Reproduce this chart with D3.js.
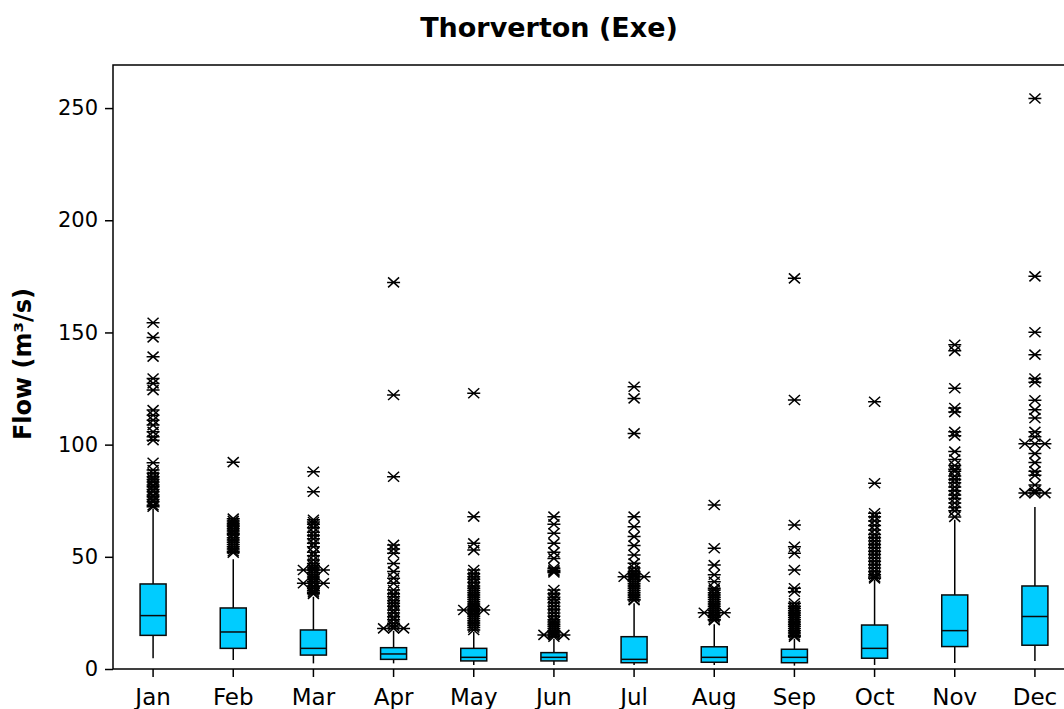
<!DOCTYPE html>
<html>
<head>
<meta charset="utf-8">
<script src="https://cdn.jsdelivr.net/npm/d3@7"></script>
<style>
    body { margin: 0; background: #fff; }
    svg { display: block; font-family: "DejaVu Sans", Verdana, sans-serif; }
</style>
</head>
<body>
<svg id="chart"></svg>
<script>
// month categories
const months = ["Jan", "Feb", "Mar", "Apr", "May", "Jun", "Jul", "Aug", "Sep", "Oct", "Nov", "Dec"]

// box stats per month (m3/s)
const whiskerLow  = [4.8, 4.0, 2.5, 2.5, 1.8, 1.8, 1.8, 1.8, 1.5, 1.8, 2.7, 3.6]
const q1          = [15.0, 9.2, 6.2, 4.3, 3.6, 3.6, 2.8, 3.0, 2.8, 4.8, 10.0, 10.6]
const medians     = [23.8, 16.5, 9.2, 6.7, 5.2, 5.2, 4.3, 5.2, 5.2, 9.2, 17.1, 23.4]
const q3          = [37.9, 27.2, 17.4, 9.5, 9.2, 7.3, 14.4, 9.9, 8.8, 19.6, 33.0, 37.0]
const whiskerHigh = [71.5, 48.9, 32.2, 17.0, 16.5, 13.5, 29.3, 20.0, 13.5, 39.7, 66.5, 72.2]

// outliers per month (repeated values are ties, drawn side by side)
const outliersJan = [154.3, 147.8, 139.2, 129.5, 127.3, 124.3, 115.4, 113.1, 110.9, 108.7, 105.7, 103.5, 102.0,
    91.9, 88.7, 87.2, 85.7, 84.5, 83.4, 82.0, 81.2, 80.0, 79.0, 77.5, 76.8, 75.5, 74.5, 73.0, 72.3]
const outliersFeb = [92.2, 67.0, 66.0, 65.0, 64.2, 63.5, 62.5, 61.5, 60.5, 59.8, 58.5, 57.5, 56.5, 55.5, 54.5,
    53.5, 52.5, 51.8]
const outliersMar = [87.9, 79.0, 66.5, 65.5, 64.5, 63.0, 61.0, 59.5, 58.0, 56.0, 54.5, 52.0, 50.5, 48.6, 47.0,
    46.0, 45.0, 44.1, 44.1, 44.1, 43.0, 42.0, 41.0, 40.0, 39.0, 38.2, 38.2, 38.2, 37.0, 36.0, 35.0, 34.2, 33.5]
const outliersApr = [172.3, 122.1, 85.7, 55.3, 53.5, 51.6, 47.0, 43.4, 40.5, 38.2, 35.2, 33.5, 32.2, 30.5, 29.3,
    28.0, 26.3, 25.0, 23.3, 22.0, 20.4, 19.2, 18.1, 18.1, 18.1]
const outliersMay = [122.9, 67.9, 56.0, 53.0, 44.1, 42.5, 41.1, 40.0, 38.5, 37.0, 36.0, 35.0, 34.0, 33.0, 32.0,
    31.0, 30.0, 29.0, 28.0, 27.0, 26.3, 26.3, 26.3, 25.5, 24.5, 23.5, 22.5, 21.5, 20.5, 19.5, 18.5, 17.4]
const outliersJun = [67.9, 64.5, 60.5, 56.0, 52.0, 49.3, 44.9, 44.0, 43.5, 43.0, 35.2, 33.5, 32.0, 31.0, 29.5,
    28.0, 26.5, 25.0, 23.5, 22.0, 21.0, 20.0, 19.0, 18.0, 17.0, 16.0, 15.2, 15.2, 15.2, 14.4]
const outliersJul = [125.8, 120.6, 105.0, 67.9, 63.4, 59.0, 55.0, 50.8, 47.1, 45.0, 43.5, 42.5, 41.9, 41.1, 41.1,
    41.1, 40.0, 39.0, 38.0, 37.0, 36.0, 35.0, 34.0, 33.0, 32.0, 31.0, 30.7]
const outliersAug = [73.1, 53.8, 46.3, 42.0, 38.9, 36.0, 35.2, 34.0, 33.0, 32.0, 31.0, 30.0, 29.0, 28.0, 27.0,
    26.0, 25.1, 25.1, 25.1, 24.0, 23.0, 22.0, 21.8]
const outliersSep = [174.1, 119.9, 64.2, 54.5, 51.6, 44.1, 36.0, 34.4, 29.3, 28.0, 27.0, 26.0, 25.0, 24.0, 23.0,
    22.0, 21.0, 20.0, 19.0, 18.0, 17.0, 16.0, 15.0, 14.4]
const outliersOct = [119.1, 82.8, 69.4, 67.9, 66.0, 64.0, 62.0, 60.0, 58.5, 57.0, 55.5, 54.0, 52.5, 51.0, 49.5,
    48.0, 46.5, 45.0, 43.5, 42.0, 41.0, 40.4]
const outliersNov = [144.5, 141.8, 125.1, 116.3, 114.5, 105.7, 104.0, 96.9, 93.4, 90.7, 89.0, 88.1, 86.0, 84.5,
    83.0, 81.1, 79.5, 77.5, 76.0, 74.0, 72.0, 70.5, 67.8]
const outliersDec = [254.3, 175.0, 150.1, 140.1, 129.5, 127.8, 119.8, 115.5, 111.9, 105.7, 103.5, 100.4, 100.4,
    100.4, 96.0, 92.0, 88.1, 86.3, 82.0, 79.5, 78.4, 78.4, 78.4]

const outliers = [outliersJan, outliersFeb, outliersMar, outliersApr, outliersMay, outliersJun,
    outliersJul, outliersAug, outliersSep, outliersOct, outliersNov, outliersDec]

const yTicks = [0, 50, 100, 150, 200, 250]

// layout
const W = 1064, H = 709
const plot = {left: 113, top: 65, right: 1075, bottom: 669}
const boxWidth = 26
const tieGap = 10

const svg = d3.select("#chart").attr("width", W).attr("height", H)

const x = d3.scaleBand()
    .domain(months)
    .range([plot.left, plot.right])

const y = d3.scaleLinear()
    .domain([0, 269.2])
    .range([plot.bottom, plot.top])

const cx = m => x(m) + x.bandwidth() / 2

// build box records from the arrays
const boxes = months.map((m, i) => ({
    month: m,
    lo: whiskerLow[i], q1: q1[i], med: medians[i], q3: q3[i], hi: whiskerHigh[i]
}))

// spread ties horizontally, like the original does
const points = []
months.forEach((m, i) => {
    let counts = d3.rollup(outliers[i], v => v.length, d => d)
    let seen = new Map()
    outliers[i].forEach(v => {
        let n = counts.get(v)
        let k = seen.get(v) || 0
        seen.set(v, k + 1)
        points.push({month: m, value: v, offset: (k - (n - 1) / 2) * tieGap})
    })
})

// title
svg.append("text")
    .attr("x", 549)
    .attr("y", 37)
    .attr("text-anchor", "middle")
    .attr("font-size", 27)
    .attr("font-weight", "bold")
    .text("Thorverton (Exe)")

// y label
svg.append("text")
    .attr("transform", "translate(31,364) rotate(-90)")
    .attr("text-anchor", "middle")
    .attr("font-size", 24)
    .attr("font-weight", "bold")
    .text("Flow (m³/s)")

// frame
svg.append("rect")
    .attr("x", plot.left)
    .attr("y", plot.top)
    .attr("width", plot.right - plot.left)
    .attr("height", plot.bottom - plot.top)
    .attr("fill", "none")
    .attr("stroke", "#000")
    .attr("stroke-width", 1.5)

// axes
let yAxis = svg.append("g")
    .attr("transform", `translate(${plot.left},0)`)
    .call(d3.axisLeft(y).tickValues(yTicks).tickSize(8).tickPadding(7).tickFormat(d3.format("d")))
yAxis.select(".domain").remove()
yAxis.selectAll("line").attr("stroke-width", 1.5)
yAxis.selectAll("text").attr("font-size", 21).attr("font-family", "DejaVu Sans").attr("fill", "#000")

let xAxis = svg.append("g")
    .attr("transform", `translate(0,${plot.bottom})`)
    .call(d3.axisBottom(x).tickSize(8).tickPadding(12))
xAxis.select(".domain").remove()
xAxis.selectAll("line").attr("stroke-width", 1.5)
xAxis.selectAll("text").attr("font-size", 23).attr("font-family", "DejaVu Sans").attr("fill", "#000")

// whiskers
let g = svg.append("g")
g.selectAll("line.whisker")
    .data(boxes)
    .enter()
    .append("line")
        .attr("class", "whisker")
        .attr("x1", d => cx(d.month))
        .attr("x2", d => cx(d.month))
        .attr("y1", d => y(d.lo))
        .attr("y2", d => y(d.hi))
        .attr("stroke", "#000")
        .attr("stroke-width", 1.5)

// boxes
g.selectAll("rect.box")
    .data(boxes)
    .enter()
    .append("rect")
        .attr("class", "box")
        .attr("x", d => cx(d.month) - boxWidth / 2)
        .attr("y", d => y(d.q3))
        .attr("width", boxWidth)
        .attr("height", d => y(d.q1) - y(d.q3))
        .attr("fill", "#00ccff")
        .attr("stroke", "#0a0a0a")
        .attr("stroke-width", 1.5)

// medians
g.selectAll("line.median")
    .data(boxes)
    .enter()
    .append("line")
        .attr("class", "median")
        .attr("x1", d => cx(d.month) - boxWidth / 2)
        .attr("x2", d => cx(d.month) + boxWidth / 2)
        .attr("y1", d => y(d.med))
        .attr("y2", d => y(d.med))
        .attr("stroke", "#0a0a0a")
        .attr("stroke-width", 1.5)

// outliers as asterisks: horizontal bar plus two diagonals
const star = "M-6.5,0L6.5,0M-5.5,-5L5.5,5M-5.5,5L5.5,-5"
g.selectAll("path.outlier")
    .data(points)
    .enter()
    .append("path")
        .attr("class", "outlier")
        .attr("transform", d => `translate(${cx(d.month) + d.offset},${y(d.value)})`)
        .attr("d", star)
        .attr("fill", "none")
        .attr("stroke", "#000")
        .attr("stroke-width", 1.5)
</script>
</body>
</html>
